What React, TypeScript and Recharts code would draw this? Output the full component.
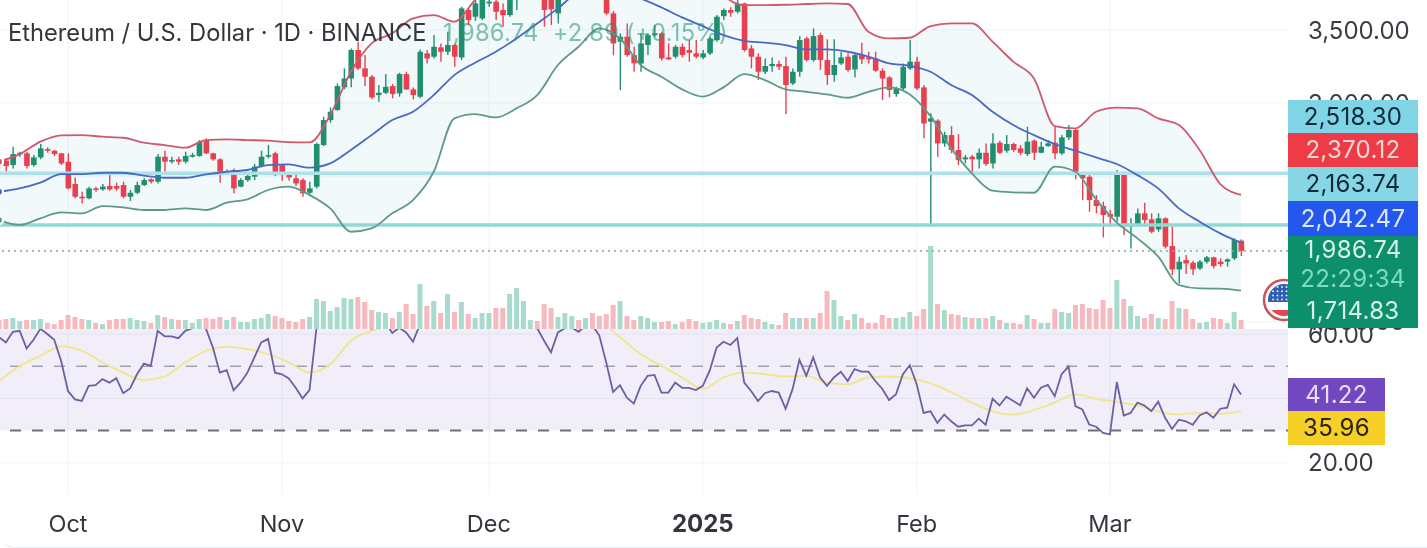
import React from 'react'
import { ComposedChart, Area, Bar, Line, XAxis, YAxis, CartesianGrid, ReferenceLine, ReferenceArea } from 'recharts'

// daily candles, 21 Sep 2024 to 20 Mar 2025
const opens = [
  2609,2605,2575,2650,2655,2575,2627,2684,2673,2655,
  2598,2445,2358,2347,2415,2408,2431,2431,2438,2358,
  2385,2438,2477,2461,2632,2598,2614,2598,2632,2637,
  2746,2655,2614,2518,2541,2427,2472,2495,2568,2632,
  2655,2575,2506,2484,2472,2385,2427,2712,2883,2952,
  3107,3168,3363,3237,3180,3054,3070,3116,3066,3198,
  3093,3043,3340,3317,3381,3351,3397,3312,3637,3591,
  3579,3682,3694,3637,3602,3705,3775,3900,4000,3995,
  3720,3614,3830,3880,3950,3910,3960,3890,3880,3614,
  3420,3454,3328,3271,3397,3465,3477,3312,3317,3385,
  3363,3340,3312,3340,3431,3595,3637,3625,3682,3374,
  3317,3214,3253,3267,3253,3134,3214,3442,3294,3465,
  3294,3191,3271,3317,3230,3328,3312,3305,3221,3175,
  3061,3100,3237,3283,3107,2872,2879,2723,2780,2678,
  2614,2632,2614,2659,2586,2728,2673,2719,2689,2650,
  2742,2659,2705,2728,2655,2764,2815,2518,2495,2335,
  2294,2239,2221,2518,2153,2171,2244,2203,2134,2210,
  2020,1860,1924,1906,1867,1913,1943,1913,1913,1936,
  2057,
]
const closes = [
  2575,2568,2650,2659,2568,2627,2689,2673,2650,2586,
  2415,2358,2347,2415,2404,2427,2408,2413,2358,2385,
  2438,2472,2461,2632,2598,2609,2598,2637,2643,2735,
  2655,2614,2518,2529,2415,2472,2500,2564,2632,2643,
  2506,2506,2490,2449,2381,2415,2719,2883,2940,3116,
  3168,3363,3237,3180,3038,3070,3111,3061,3198,3093,
  3054,3351,3305,3385,3351,3397,3317,3648,3568,3682,
  3716,3694,3625,3602,3705,3773,3900,4000,3995,3637,
  3641,3830,3880,3950,3910,3960,3890,3880,3614,3408,
  3454,3328,3271,3408,3465,3477,3305,3299,3385,3328,
  3344,3317,3340,3442,3591,3637,3618,3678,3363,3317,
  3214,3253,3267,3248,3123,3214,3431,3294,3458,3294,
  3191,3260,3312,3226,3328,3299,3299,3221,3168,3089,
  3100,3248,3283,3100,2860,2895,2723,2780,2678,2609,
  2627,2614,2659,2582,2723,2659,2719,2678,2659,2735,
  2659,2700,2723,2655,2764,2815,2518,2484,2335,2294,
  2232,2221,2522,2153,2171,2244,2198,2118,2210,2016,
  1860,1913,1901,1860,1913,1943,1883,1897,1929,2061,
  1986.74,
]
const highs = [
  2621,2621,2700,2666,2666,2643,2719,2696,2678,2659,
  2655,2490,2392,2427,2427,2445,2513,2454,2461,2404,
  2461,2484,2484,2650,2673,2632,2632,2666,2659,2746,
  2758,2659,2621,2545,2552,2484,2518,2582,2673,2712,
  2666,2582,2522,2506,2484,2461,2728,2906,2970,3134,
  3237,3374,3420,3328,3191,3123,3198,3130,3207,3214,
  3107,3367,3363,3465,3408,3488,3408,3659,3648,3705,
  3740,3728,3705,3682,3750,3796,3960,4020,4030,4010,
  3770,3880,3950,4000,3990,3990,4100,3930,3900,3630,
  3477,3545,3385,3477,3477,3534,3488,3408,3397,3408,
  3431,3431,3363,3454,3602,3648,3655,3705,3687,3397,
  3340,3305,3312,3289,3317,3237,3458,3454,3511,3481,
  3436,3436,3351,3340,3344,3413,3351,3351,3237,3184,
  3111,3271,3431,3317,3123,2929,2888,2803,2842,2787,
  2643,2643,2689,2723,2792,2742,2780,2728,2712,2837,
  2751,2735,2746,2842,2780,2849,2826,2529,2506,2369,
  2324,2267,2541,2529,2210,2278,2317,2244,2244,2217,
  2153,1947,1958,1920,1924,1952,1947,1936,1936,2073,
  2066,
]
const lows = [
  2529,2529,2552,2632,2552,2564,2614,2659,2637,2575,
  2408,2347,2312,2340,2392,2399,2399,2399,2347,2328,
  2376,2431,2449,2449,2529,2586,2575,2586,2627,2632,
  2650,2605,2454,2506,2381,2422,2461,2472,2559,2621,
  2500,2468,2468,2431,2358,2369,2415,2705,2865,2947,
  3093,3107,3226,3116,3025,3009,3061,3032,3043,3089,
  3025,3032,3271,3305,3283,3328,3248,3294,3534,3563,
  3568,3659,3568,3522,3591,3637,3730,3860,3940,3523,
  3534,3545,3760,3860,3870,3880,3870,3780,3602,3328,
  3089,3317,3214,3214,3328,3454,3289,3294,3305,3312,
  3283,3305,3299,3328,3420,3568,3591,3614,3351,3237,
  3157,3198,3214,3226,2924,3123,3180,3283,3283,3226,
  3123,3146,3260,3214,3175,3267,3271,3214,3020,3038,
  3043,3089,3226,3089,2758,2153,2632,2700,2655,2575,
  2586,2518,2552,2568,2552,2650,2659,2666,2643,2637,
  2609,2655,2700,2614,2643,2746,2477,2335,2255,2244,
  2079,2153,2187,2095,2004,2153,2171,2107,2118,2004,
  1822,1764,1828,1822,1856,1901,1867,1879,1879,1924,
  1952,
]
// relative volume, no scale is shown in the picture
const volumes = [
  9,10,11,8,9,9,10,6,5,9,
  14,12,10,9,6,5,9,10,10,11,
  9,8,6,14,12,10,9,9,6,10,
  11,10,12,9,12,7,7,10,11,15,
  13,11,8,7,10,12,30,28,18,22,
  31,30,32,27,19,17,16,11,17,25,
  15,45,23,28,16,35,17,27,15,11,
  16,16,21,21,35,41,28,9,8,25,
  21,12,16,13,9,11,16,13,15,24,
  28,13,9,13,11,7,7,8,5,7,
  10,8,6,7,9,6,5,8,14,11,
  10,7,5,4,16,11,11,11,11,16,
  38,29,13,9,15,11,6,6,14,11,
  11,12,17,13,20,83,25,19,15,14,
  12,11,11,11,13,9,6,6,5,14,
  10,6,6,20,17,16,24,25,21,20,
  29,21,49,30,23,13,11,15,11,10,
  28,21,20,10,6,7,11,10,6,17,
  9,
]
const rsi = [
  59,57.4,60.7,61,55.5,58.2,61.6,60,58.2,51.7,
  42.3,39.7,39.2,43.9,44.1,46,44.9,46.3,41.6,43.1,
  47.5,50.8,50.1,61,59.3,59.3,58.7,61,61.8,64,
  61.6,55.8,48,48.8,42.5,44.9,48,52.7,57.4,58.5,
  48,47.5,46.2,43.3,40,42.6,61.6,67,68,72,
  73,76,70,65,61.6,63,63.5,60.3,62,60.5,
  57.6,63,66,68,67,66,63,72,68,70,
  72,71,66,64,68,72,74,72,61.8,57.9,
  54.3,60.5,61.8,62,60.7,62.6,62.8,59.5,51.2,42,
  44.1,40.2,38.4,43.9,47,47.3,41.8,41.8,44.9,43.3,
  43.3,42.6,43.9,48.6,55.8,57.6,56.6,58.7,44.9,42.3,
  39.2,41.6,42.3,41.8,36.8,42.8,52,47,52.7,46.5,
  43.9,46.5,48.3,45.4,49.1,48.3,48.3,45.4,43,39.5,
  41.3,47.5,50.3,44.4,35.5,36,32.4,35,32.9,31.2,
  31.6,31.6,33.7,31.8,39.9,37.8,40.5,39.2,37.9,43.1,
  40.2,43.3,44.2,40.7,47.5,49.9,37.6,36.6,31.9,31.2,
  29.3,28.8,45.1,34.7,35.5,38.7,37.8,36,39,34,
  30.5,33.4,32.9,31.8,34.7,35.7,34,36.8,37.1,44.4,
  41.22,
]

// the smooth lines are read every third day
const bbUpper = [
  2598,2650,2735,2778,2780,2769,2762,2728,2712,2694,
  2746,2751,2746,2742,2732,2730,2917,3214,3408,3477,
  3579,3602,3557,3705,3820,3930,4050,4130,4170,4180,
  4190,4180,4150,4080,3960,3740,3671,3671,3673,3678,
  3682,3678,3488,3442,3447,3527,3545,3545,3420,3283,
  3168,2842,2826,2940,2968,2963,2895,2849,2678,2445,
  2370.12,
]
const bbBasis = [
  2392,2415,2454,2513,2513,2522,2522,2502,2488,2488,
  2511,2529,2541,2575,2579,2557,2586,2678,2780,2883,
  2940,3054,3191,3276,3351,3442,3545,3648,3760,3790,
  3770,3716,3655,3586,3527,3465,3426,3413,3397,3367,
  3367,3351,3317,3271,3255,3214,3123,3054,2940,2849,
  2780,2719,2673,2627,2582,2506,2415,2278,2187,2107,
  2042.47,
]
const bbLower = [
  2198,2164,2210,2251,2244,2294,2285,2267,2267,2278,
  2267,2317,2340,2404,2427,2369,2278,2118,2141,2244,
  2335,2529,2895,2924,2901,2963,3054,3260,3385,3511,
  3442,3260,3180,3093,3043,3107,3198,3157,3093,3077,
  3059,3036,3077,3107,3059,2910,2689,2518,2399,2388,
  2385,2564,2529,2340,2180,2073,1947,1753,1730,1728,
  1714.83,
]
const rsiMa = [
  45.4,50.1,53.2,56.2,54.8,51.2,48,45.7,46.8,51.2,
  54.8,56,55.3,53.8,51.2,48,50.6,57.9,61,63,
  64,65,66,67,67,68,68,68,67,64,
  59,53.8,50.1,46.5,43,46.5,48,47.5,46.8,47,
  44.9,44.4,46.5,46.8,46.2,44.7,42,38.7,36,35,
  36.4,38.7,41.3,39.9,38.9,37.8,36,35,35.5,35.2,
  35.96,
]

const priceTicks = [3500, 3000, 2500, 2000, 1500]
const rsiTicks = [60, 40, 20]
const monthIndex = [10, 41, 71, 102, 133, 161]
const monthLabels = ['Oct', 'Nov', 'Dec', '2025', 'Feb', 'Mar']
const supportLevels = [2518.3, 2163.74]
const lastPrice = 1986.74

const priceTags = [
  { text: '2,518.30', top: 100, h: 33, bg: '#7fd4e6', fg: '#0e2a38' },
  { text: '2,370.12', top: 133, h: 34, bg: '#ee3b48', fg: '#fbd9d3' },
  { text: '2,163.74', top: 167, h: 34, bg: '#86d6e6', fg: '#0e2a38' },
  { text: '2,042.47', top: 201, h: 35, bg: '#2457ee', fg: '#dfe8ff' },
  { text: '1,986.74', top: 236, h: 28, bg: '#0e8f6c', fg: '#d6f2e8' },
  { text: '22:29:34', top: 264, h: 30, bg: '#0e8f6c', fg: '#7ddcbd' },
  { text: '1,714.83', top: 294, h: 34, bg: '#0e8f6c', fg: '#d6f2e8' },
]
const rsiTags = [
  { text: '41.22', top: 378, h: 33, bg: '#7148bf', fg: '#e6dcf8' },
  { text: '35.96', top: 411, h: 34, bg: '#f6d027', fg: '#2a2410' },
]

const rows = opens.map((open, i) => ({
  i,
  open,
  close: closes[i],
  high: highs[i],
  low: lows[i],
  volume: volumes[i],
  rsi: rsi[i],
  upper: i % 3 === 0 ? bbUpper[i / 3] : undefined,
  basis: i % 3 === 0 ? bbBasis[i / 3] : undefined,
  lower: i % 3 === 0 ? bbLower[i / 3] : undefined,
  rsiMa: i % 3 === 0 ? rsiMa[i / 3] : undefined,
}))

const FONT = 'Inter, Roboto, sans-serif'
const UP = '#1f8f6f'
const DOWN = '#e8404f'
const GRID = '#f0f3f6'
const X_DOMAIN: [number, number] = [0.145, 186.812]

function Candle(props: any) {
  const { x, y, width, height, payload } = props
  const { open, close, high, low } = payload
  // pixel position of a price inside the bar the library laid out for low..high
  const py = (v: number) => y + ((high - v) / (high - low)) * height
  const color = close >= open ? UP : DOWN
  const top = py(Math.max(open, close))
  const bottom = py(Math.min(open, close))
  const cx = x + width / 2
  return (
    <g>
      <line x1={cx} x2={cx} y1={y} y2={y + height} stroke={color} strokeWidth={1.4} />
      <rect x={x} width={width} y={top} height={Math.max(bottom - top, 1.5)} fill={color} />
    </g>
  )
}

function VolumeBar(props: any) {
  const { x, y, width, height, payload } = props
  const fill = payload.close >= payload.open ? '#a8dbcd' : '#f6b9bd'
  return <rect x={x} y={y} width={width} height={height} fill={fill} />
}

function MonthTick(props: any) {
  const { x, y, payload } = props
  const label = monthLabels[monthIndex.indexOf(payload.value)]
  return (
    <text x={x} y={y + 20} textAnchor="middle" dominantBaseline="central" fontFamily={FONT}
      fontSize={label === '2025' ? 24 : 23.5} fontWeight={label === '2025' ? 700 : 400} fill="#33363d">
      {label}
    </text>
  )
}

const fmt = (v: number) => v.toLocaleString('en-US', { minimumFractionDigits: 2 })
const axisTick = { fill: '#3a3d45', fontSize: 24, fontFamily: FONT }

function Tag({ t, width }: { t: any; width: number }) {
  return (
    <div style={{
      position: 'absolute', left: 1288, top: t.top, width, height: t.h, background: t.bg, color: t.fg,
      font: `24px ${FONT}`, lineHeight: `${t.h}px`, textAlign: 'center', letterSpacing: 0.3,
    }}>{t.text}</div>
  )
}

const flagStars = [0, 1, 2, 3].flatMap(r => [0, 1, 2, 3].map(c => ({ r, c })))

function FlagIcon() {
  return (
    <svg width={44} height={50} viewBox="0 0 44 50" style={{ position: 'absolute', left: 1260, top: 276 }}>
      <defs>
        <clipPath id="flag-disc"><circle cx={24} cy={24} r={16} /></clipPath>
      </defs>
      <circle cx={24} cy={24} r={20} fill="#fff" stroke="#cf4f55" strokeWidth={2.5} />
      <g clipPath="url(#flag-disc)">
        <rect x={8} y={8} width={32} height={18} fill="#2f5fb0" />
        <rect x={8} y={34} width={32} height={6} fill="#e2474c" />
        {flagStars.map(({ r, c }) => (
          <circle key={`${r}-${c}`} cx={13 + c * 4.5} cy={11 + r * 4.2} r={1} fill="#dfe8ff" />
        ))}
      </g>
    </svg>
  )
}

export default function App() {
  return (
    <div style={{ position: 'absolute', left: 0, top: 0, width: 1427, height: 548, overflow: 'hidden', background: '#fff', filter: 'blur(0.6px)' }}>
      <div style={{ position: 'absolute', left: 0, top: 0 }}>
        <ComposedChart width={1427} height={335} data={rows} margin={{ top: 0, right: 0, bottom: 6, left: 0 }}>
          <CartesianGrid stroke={GRID} yAxisId="price" xAxisId="candle" syncWithTicks />
          <XAxis xAxisId="candle" dataKey="i" type="number" domain={X_DOMAIN} ticks={monthIndex} interval={0} allowDataOverflow hide />
          <XAxis xAxisId="vol" dataKey="i" type="number" domain={X_DOMAIN} allowDataOverflow hide />
          <YAxis yAxisId="price" orientation="right" width={139} domain={[1451.85, 3705.5]} ticks={priceTicks} interval={0}
            allowDataOverflow axisLine={false} tickLine={false} tickSize={0} tickMargin={20} tick={axisTick} tickFormatter={fmt} />
          <YAxis yAxisId="vol" hide domain={[0, 329]} allowDataOverflow />
          <Area xAxisId="candle" yAxisId="price" dataKey={(d: any) => (d.upper === undefined ? undefined : [d.lower, d.upper])}
            type="monotone" connectNulls stroke="none" fill="#2aa5c9" fillOpacity={0.065} isAnimationActive={false} />
          <Bar xAxisId="vol" yAxisId="vol" dataKey="volume" barSize={5} shape={<VolumeBar />} isAnimationActive={false} />
          {supportLevels.map((lv, k) => (
            <ReferenceLine key={lv} xAxisId="candle" yAxisId="price" y={lv} stroke={k === 0 ? '#aee0ea' : '#93d8d2'} strokeWidth={3.5} />
          ))}
          <ReferenceLine xAxisId="candle" yAxisId="price" y={lastPrice} stroke="#8aa69c" strokeWidth={1.5} strokeDasharray="2 4" />
          <Line xAxisId="candle" yAxisId="price" dataKey="upper" type="monotone" connectNulls dot={false} stroke="#cf5a6d" strokeWidth={1.8} isAnimationActive={false} />
          <Line xAxisId="candle" yAxisId="price" dataKey="lower" type="monotone" connectNulls dot={false} stroke="#5f9a88" strokeWidth={1.8} isAnimationActive={false} />
          <Line xAxisId="candle" yAxisId="price" dataKey="basis" type="monotone" connectNulls dot={false} stroke="#4a68c4" strokeWidth={1.8} isAnimationActive={false} />
          <Bar xAxisId="candle" yAxisId="price" dataKey={(d: any) => [d.low, d.high]} barSize={5.6} shape={<Candle />} isAnimationActive={false} />
        </ComposedChart>
      </div>

      <div style={{ position: 'absolute', left: 0, top: 319 }}>
        <ComposedChart width={1427} height={229} data={rows} margin={{ top: 10, right: 0, bottom: 0, left: 0 }}>
          <ReferenceArea y1={30} y2={61.56} fill="#7e57c2" fillOpacity={0.1} stroke="none" />
          <CartesianGrid stroke={GRID} syncWithTicks />
          <XAxis dataKey="i" type="number" domain={X_DOMAIN} ticks={monthIndex} allowDataOverflow height={53}
            axisLine={false} tickLine={false} interval={0} tick={<MonthTick />} />
          <YAxis orientation="right" width={139} domain={[10, 61.56]} ticks={rsiTicks} interval={0} allowDataOverflow
            axisLine={false} tickLine={false} tickSize={0} tickMargin={20} tick={axisTick} tickFormatter={(v: number) => v.toFixed(2)} />
          <ReferenceLine y={50} stroke="#a2a2ae" strokeWidth={1.5} strokeDasharray="11 11" strokeDashoffset={9} />
          <ReferenceLine y={30} stroke="#6f7178" strokeWidth={2} strokeDasharray="11 11" strokeDashoffset={9} />
          <Line dataKey="rsiMa" type="monotone" connectNulls dot={false} stroke="#efe68a" strokeWidth={1.8} isAnimationActive={false} />
          <Line dataKey="rsi" type="linear" dot={false} stroke="#6e5fa3" strokeWidth={1.8} isAnimationActive={false} />
        </ComposedChart>
      </div>

      <div style={{ position: 'absolute', left: 8, top: 18, font: `23.7px ${FONT}`, color: '#33363d', whiteSpace: 'nowrap' }}>
        Ethereum / U.S. Dollar · 1D · BINANCE
      </div>
      <div style={{ position: 'absolute', left: 443, top: 18, font: `23.7px ${FONT}`, color: 'rgba(31,143,111,0.55)', whiteSpace: 'nowrap', letterSpacing: 0.3 }}>
        1,986.74 &nbsp;+2.89 (+0.15%)
      </div>

      <FlagIcon />
      {priceTags.map(t => <Tag key={t.text} t={t} width={130} />)}
      {rsiTags.map(t => <Tag key={t.text} t={t} width={97} />)}

      <div style={{ position: 'absolute', left: 0, top: 440, width: 1426, height: 107, borderBottom: '1px solid #e9edf0', borderLeft: '1px solid transparent', borderRadius: '0 0 0 14px' }} />
    </div>
  )
}
